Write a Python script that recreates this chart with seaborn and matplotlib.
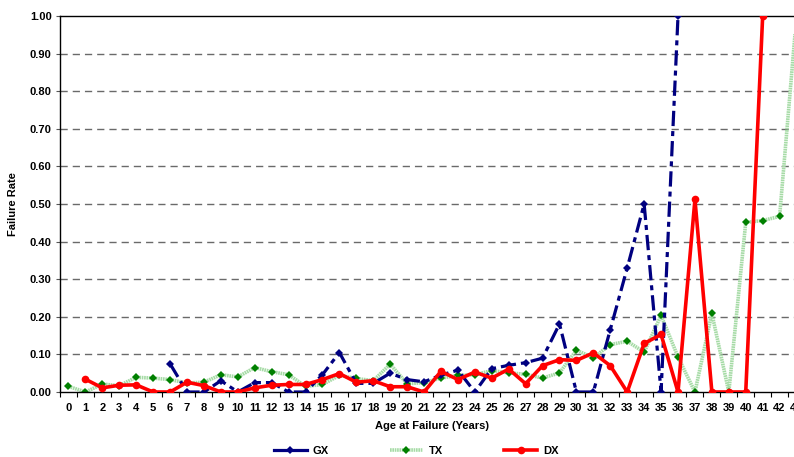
import matplotlib
matplotlib.use("Agg")
import matplotlib.pyplot as plt
import seaborn as sns
import numpy as np
import pandas as pd
from matplotlib.lines import Line2D
from matplotlib.ticker import MultipleLocator, FormatStrFormatter

# ages 0..43 on a category axis
ages = list(range(44))
nan = np.nan
gx = [nan, nan, nan, nan, nan, nan, 0.075, 0.0, 0.0, 0.03, 0.0,
      0.025, 0.025, 0.0, 0.0, 0.046, 0.105, 0.023, 0.023, 0.05, 0.033,
      0.027, 0.045, 0.058, 0.0, 0.062, 0.071, 0.078, 0.09, 0.181, 0.0,
      0.0, 0.166, 0.33, 0.50, 0.0, 1.00, nan, nan, nan, nan,
      nan, nan, nan]
tx = [0.015, 0.0, 0.021, 0.017, 0.039, 0.037, 0.033, 0.024, 0.026, 0.046, 0.04,
      0.065, 0.054, 0.046, 0.015, 0.02, 0.044, 0.036, 0.03, 0.074, 0.022,
      0.025, 0.037, 0.044, 0.046, 0.057, 0.051, 0.047, 0.037, 0.051, 0.111,
      0.091, 0.126, 0.135, 0.106, 0.204, 0.093, 0.0, 0.209, 0.0, 0.451,
      0.456, 0.467, 1.00]
dx = [nan, 0.034, 0.011, 0.018, 0.019, 0.0, 0.0, 0.026, 0.017, 0.0, 0.0,
      0.011, 0.018, 0.02, 0.02, 0.033, 0.049, 0.026, 0.03, 0.014, 0.014,
      0.0, 0.055, 0.033, 0.053, 0.037, 0.061, 0.022, 0.07, 0.086, 0.084,
      0.104, 0.07, 0.0, 0.129, 0.153, 0.0, 0.512, 0.0, 0.0, 0.0,
      1.00, nan, nan]

df = pd.DataFrame({"age": ages, "GX": gx, "TX": tx, "DX": dx})

plt.rcParams["font.family"] = ["Liberation Sans", "DejaVu Sans"]
plt.rcParams["font.weight"] = "bold"
plt.rcParams["lines.scale_dashes"] = False

fig = plt.figure(figsize=(7.94, 4.57), dpi=100)
ax = fig.add_axes([60 / 794, 1 - 392 / 457, 745 / 794, 376 / 457])

# draw the three series
sns.lineplot(data=df, x="age", y="GX", ax=ax, color="#000080", lw=2.3,
             marker="D", markersize=4, markeredgewidth=0, zorder=3)
ax.get_lines()[-1].set_dashes((11, 3.6, 3.6, 3.6))
sns.lineplot(data=df, x="age", y="TX", ax=ax, color="#a6dba6", lw=2.6,
             marker="D", markersize=4.5, markerfacecolor="#008000",
             markeredgewidth=0, zorder=2)
ax.get_lines()[-1].set_dashes((1.2, 0.5))
sns.lineplot(data=df, x="age", y="DX", ax=ax, color="#ff0000", lw=2.6,
             marker="o", markersize=5.5, markeredgewidth=0, zorder=4)

ax.set_xlim(-0.5, 43.5)
ax.set_ylim(0, 1.0)
ax.set_xticks(ages)
ax.set_xticklabels([str(a) for a in ages])
ax.xaxis.set_minor_locator(MultipleLocator(1, offset=0.5))
ax.tick_params(axis="x", which="major", length=0, pad=8, labelsize=8)
ax.tick_params(axis="x", which="minor", length=3.6, width=0.8, direction="out")
ax.yaxis.set_major_locator(MultipleLocator(0.1))
ax.yaxis.set_major_formatter(FormatStrFormatter("%.2f"))
ax.tick_params(axis="y", length=3, width=0.8, pad=3, labelsize=8, color="#555555")

# dashed gridlines between 0 and 1
for yv in np.arange(0.1, 0.95, 0.1):
    ax.axhline(yv, color="#6a6a6a", lw=1.0, dashes=(5.2, 3.6), zorder=1)

for s in ["left", "bottom", "top", "right"]:
    ax.spines[s].set_color("black")
    ax.spines[s].set_linewidth(1.0)

ax.set_xlabel("Age at Failure (Years)", fontsize=8, fontweight="bold")
ax.set_ylabel("Failure Rate", fontsize=8, fontweight="bold")
ax.xaxis.set_label_coords(0.4993, -0.077)
ax.xaxis.label.set_va("top")
ax.yaxis.set_label_coords(-42 / 745, 0.5)

if ax.get_legend() is not None:
    ax.get_legend().remove()
handles = [
    Line2D([0], [0], color="#000080", lw=2.3, marker="D", markersize=4,
           markeredgewidth=0, markevery=[1]),
    Line2D([0], [0], color="#a6dba6", lw=2.6, marker="D", markersize=4.5,
           markerfacecolor="#008000", markeredgewidth=0, dashes=(1.2, 0.5)),
    Line2D([0], [0], color="#ff0000", lw=2.6, marker="o", markersize=5.5,
           markeredgewidth=0),
]
fig.legend(handles, ["GX", "TX", "DX"], loc="center",
           bbox_to_anchor=(416 / 794, 1 - 451 / 457),
           ncol=3, frameon=False, fontsize=8, handlelength=3.0,
           handletextpad=0.5, columnspacing=5.5)

fig.savefig("out.png", dpi=100)
